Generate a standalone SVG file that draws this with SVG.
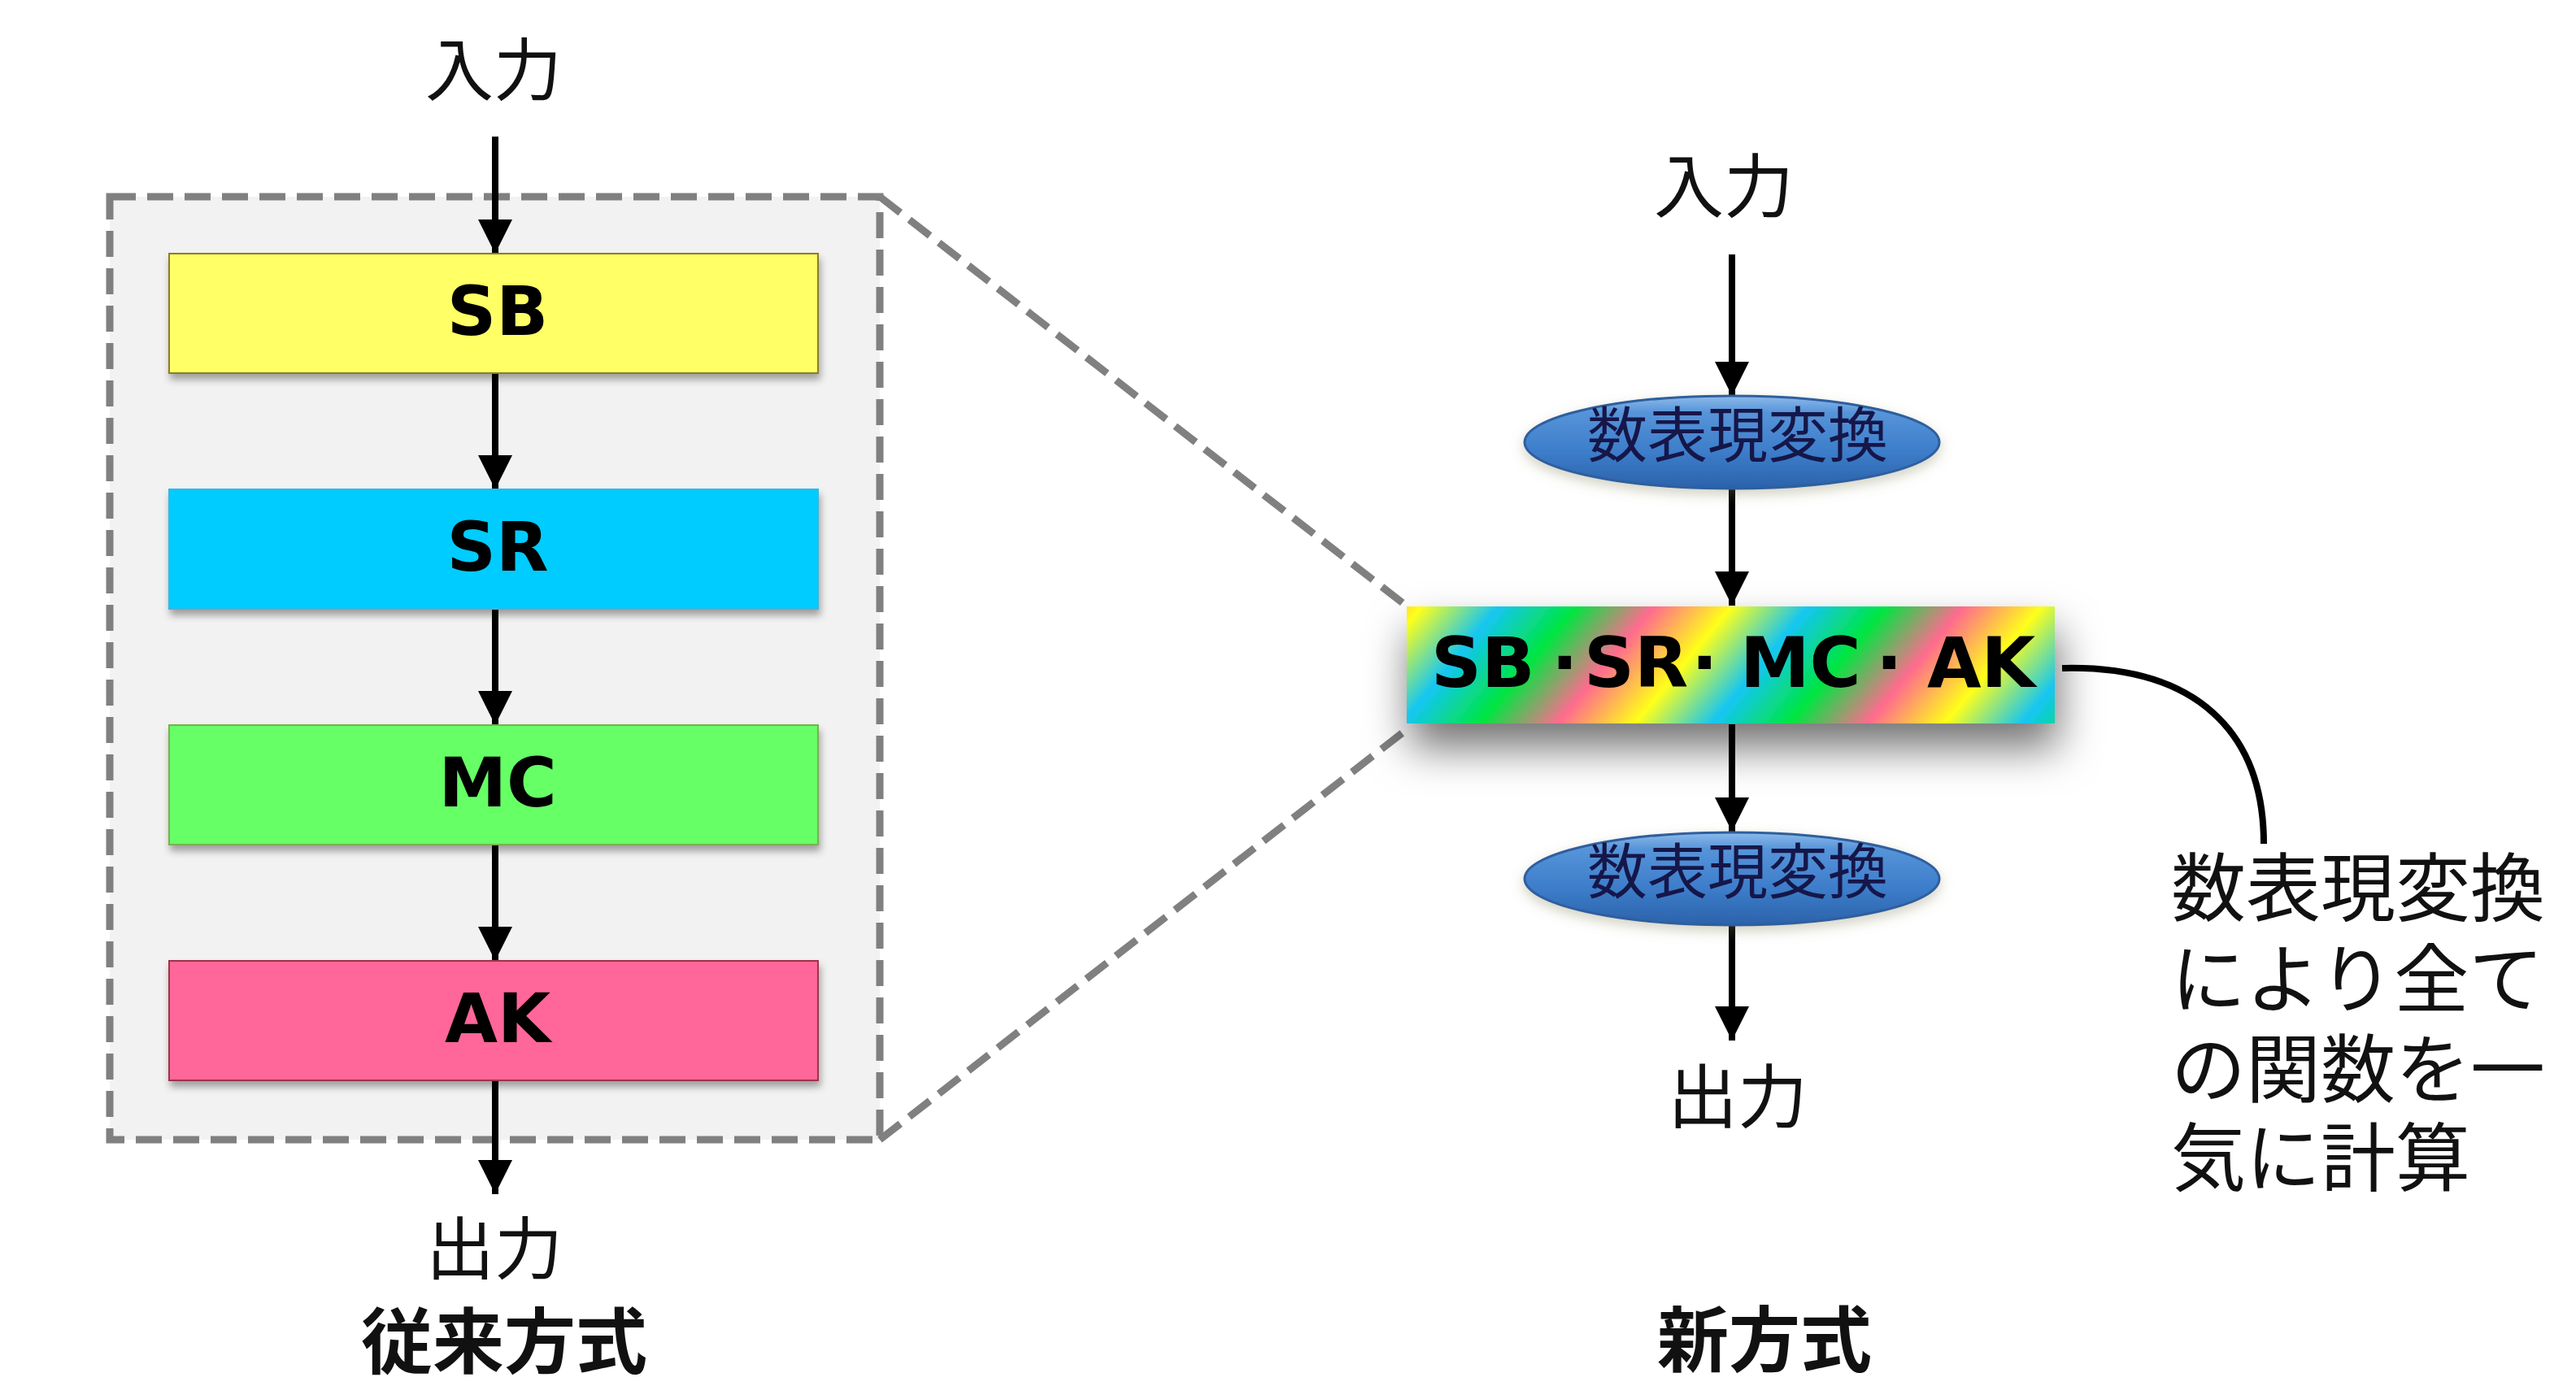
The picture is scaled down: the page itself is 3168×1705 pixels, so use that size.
<svg xmlns="http://www.w3.org/2000/svg" width="3168" height="1705" viewBox="0 0 3168 1705">
  <style>
    .jp { font-family: "Noto Sans CJK JP", "Noto Sans", sans-serif; fill: #111; }
    .jpb { font-family: "Noto Sans CJK JP", "Noto Sans", sans-serif; font-weight: 700; fill: #111; }
    .lat { font-family: "DejaVu Sans", "Liberation Sans", sans-serif; font-weight: 700; fill: #000; }
    .ell { font-family: "Noto Sans CJK JP", "Noto Sans", sans-serif; fill: #14184a; }
    .conn { stroke: #000; stroke-width: 8; fill: none; }
    .dash { stroke: #808080; stroke-width: 9; fill: none; stroke-dasharray: 32 14; }
    .box { stroke-width: 2; }
  </style>
  <defs>
    <marker id="arr" markerUnits="userSpaceOnUse" markerWidth="44" markerHeight="42" refX="42" refY="21" orient="auto">
      <path d="M0,0 L42,21 L0,42 Z" fill="#000"/>
    </marker>
    <filter id="sh" x="-10%" y="-20%" width="120%" height="160%">
      <feDropShadow dx="2" dy="7" stdDeviation="5" flood-color="#000" flood-opacity="0.35"/>
    </filter>
    <filter id="bigsh" x="-20%" y="-40%" width="140%" height="220%">
      <feDropShadow dx="4" dy="30" stdDeviation="26" flood-color="#000" flood-opacity="0.55"/>
    </filter>
    <filter id="esh" x="-20%" y="-40%" width="140%" height="200%">
      <feDropShadow dx="0" dy="6" stdDeviation="8" flood-color="#7a7a50" flood-opacity="0.35"/>
    </filter>
    <linearGradient id="rainbow" gradientUnits="userSpaceOnUse" x1="1745" y1="750" x2="1972" y2="937" spreadMethod="repeat">
      <stop offset="0" stop-color="#ffff1a"/>
      <stop offset="0.25" stop-color="#14c6f2"/>
      <stop offset="0.5" stop-color="#00e640"/>
      <stop offset="0.75" stop-color="#ff6b8e"/>
      <stop offset="1" stop-color="#ffff1a"/>
    </linearGradient>
    <linearGradient id="blue" x1="0" y1="0" x2="0" y2="1">
      <stop offset="0" stop-color="#8dbaea"/>
      <stop offset="0.18" stop-color="#5694d9"/>
      <stop offset="0.6" stop-color="#3d7dca"/>
      <stop offset="1" stop-color="#2b62aa"/>
    </linearGradient>
  </defs>

  <rect width="3168" height="1705" fill="#ffffff"/>

  <!-- dashed container and zoom lines -->
  <g id="container">
    <rect x="135" y="242" width="947" height="1160" fill="#f2f2f2" stroke="none"/>
    <rect x="135" y="242" width="947" height="1160" class="dash"/>
    <line x1="1082" y1="242" x2="1728" y2="744" class="dash"/>
    <line x1="1082" y1="1402" x2="1728" y2="899" class="dash"/>
  </g>

  <!-- connectors -->
  <g id="connectors">
    <line x1="609" y1="168" x2="609" y2="312" class="conn" marker-end="url(#arr)"/>
    <line x1="609" y1="459" x2="609" y2="602" class="conn" marker-end="url(#arr)"/>
    <line x1="609" y1="749" x2="609" y2="892" class="conn" marker-end="url(#arr)"/>
    <line x1="609" y1="1039" x2="609" y2="1182" class="conn" marker-end="url(#arr)"/>
    <line x1="609" y1="1329" x2="609" y2="1469" class="conn" marker-end="url(#arr)"/>
    <line x1="2130" y1="313" x2="2130" y2="487" class="conn" marker-end="url(#arr)"/>
    <line x1="2130" y1="602" x2="2130" y2="745" class="conn" marker-end="url(#arr)"/>
    <line x1="2130" y1="891" x2="2130" y2="1023" class="conn" marker-end="url(#arr)"/>
    <line x1="2130" y1="1138" x2="2130" y2="1280" class="conn" marker-end="url(#arr)"/>
    <path d="M2536,822 C2700,818 2784,900 2784,1038" class="conn" stroke-width="7"/>
  </g>

  <!-- left column -->
  <g id="in-left"><text x="607" y="117" class="jp" font-size="84" text-anchor="middle">入力</text></g>
  <g id="sb" filter="url(#sh)">
    <rect x="208" y="312" width="798" height="147" fill="#ffff66" stroke="#8c7d2a" class="box"/>
    <text x="612" y="412" class="lat" font-size="84" text-anchor="middle">SB</text>
  </g>
  <g id="sr" filter="url(#sh)">
    <rect x="208" y="602" width="798" height="147" fill="#00ccff" stroke="#39b6e0" class="box"/>
    <text x="612" y="702" class="lat" font-size="84" text-anchor="middle">SR</text>
  </g>
  <g id="mc" filter="url(#sh)">
    <rect x="208" y="892" width="798" height="147" fill="#66ff66" stroke="#7ab050" class="box"/>
    <text x="612" y="992" class="lat" font-size="84" text-anchor="middle">MC</text>
  </g>
  <g id="ak" filter="url(#sh)">
    <rect x="208" y="1182" width="798" height="147" fill="#ff6699" stroke="#a0304a" class="box"/>
    <text x="612" y="1282" class="lat" font-size="84" text-anchor="middle">AK</text>
  </g>
  <g id="out-left"><text x="608" y="1567" class="jp" font-size="84" text-anchor="middle">出力</text></g>
  <g id="title-left"><text x="620" y="1682" class="jpb" font-size="88" text-anchor="middle">従来方式</text></g>

  <!-- right column -->
  <g id="in-right"><text x="2120" y="261" class="jp" font-size="86" text-anchor="middle">入力</text></g>
  <g id="conv1" filter="url(#esh)">
    <ellipse cx="2130" cy="544" rx="255" ry="57" fill="url(#blue)" stroke="#2f5f9e" stroke-width="3"/>
    <text x="2137" y="562" class="ell" font-size="74" text-anchor="middle">数表現変換</text>
  </g>
  <g id="combined" filter="url(#bigsh)">
    <rect x="1730" y="746" width="797" height="144" fill="url(#rainbow)"/>
    <text y="845" class="lat" font-size="86"><tspan x="1760">SB</tspan><tspan x="1908">·</tspan><tspan x="1948">SR</tspan><tspan x="2080">·</tspan><tspan x="2140">MC</tspan><tspan x="2307">·</tspan><tspan x="2370">AK</tspan></text>
  </g>
  <g id="conv2" filter="url(#esh)">
    <ellipse cx="2130" cy="1081" rx="255" ry="57" fill="url(#blue)" stroke="#2f5f9e" stroke-width="3"/>
    <text x="2137" y="1099" class="ell" font-size="74" text-anchor="middle">数表現変換</text>
  </g>
  <g id="out-right"><text x="2137" y="1381" class="jp" font-size="86" text-anchor="middle">出力</text></g>
  <g id="title-right"><text x="2170" y="1680" class="jpb" font-size="88" text-anchor="middle">新方式</text></g>

  <!-- callout note -->
  <g id="note">
    <text class="jp" font-size="92"><tspan x="2670" y="1126">数表現変換</tspan><tspan x="2670" y="1238">により全て</tspan><tspan x="2670" y="1349">の関数を一</tspan><tspan x="2670" y="1458">気に計算</tspan></text>
  </g>
</svg>
